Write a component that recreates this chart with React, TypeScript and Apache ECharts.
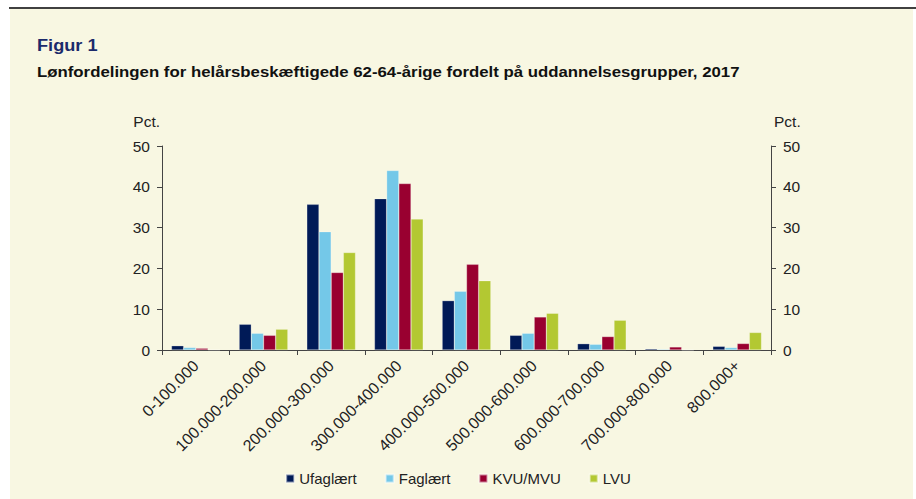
import React, { useEffect, useRef } from "react";
import * as echarts from "echarts";

const categories = [
  "0-100.000",
  "100.000-200.000",
  "200.000-300.000",
  "300.000-400.000",
  "400.000-500.000",
  "500.000-600.000",
  "600.000-700.000",
  "700.000-800.000",
  "800.000+",
];
const ufaglaert = [1.05, 6.3, 35.7, 37.1, 12.1, 3.6, 1.55, 0.3, 0.9];
const faglaert = [0.6, 4.1, 29.0, 44.0, 14.4, 4.1, 1.4, 0.2, 0.6];
const kvuMvu = [0.4, 3.6, 19.0, 40.8, 21.0, 8.1, 3.3, 0.75, 1.6];
const lvu = [0.05, 5.1, 23.9, 32.1, 17.0, 9.0, 7.3, 0.0, 4.3];
const seriesNames = ["Ufaglært", "Faglært", "KVU/MVU", "LVU"];
const seriesColors = ["#001A57", "#74C8E8", "#990030", "#B3C832"];

const FONT = "'Liberation Sans', Arial, sans-serif";

export default function App() {
  const ref = useRef<HTMLDivElement>(null);
  useEffect(() => {
    if (!ref.current) return;
    const chart = echarts.init(ref.current, undefined, { renderer: "svg" });
    const data = [ufaglaert, faglaert, kvuMvu, lvu];
    const yAxisBase = {
      type: "value",
      min: 0,
      max: 50,
      interval: 10,
      splitLine: { show: false },
      axisLine: { show: true, lineStyle: { color: "#444", width: 1 } },
      axisTick: { show: true, length: 5, lineStyle: { color: "#444" } },
      axisLabel: { color: "#222", fontSize: 15.5, fontFamily: FONT, margin: 12 },
      nameLocation: "end",
      nameGap: 17,
    };
    chart.setOption({
      animation: false,
      backgroundColor: "#ffffff",
      textStyle: { fontFamily: FONT },
      graphic: [
        {
          type: "rect",
          shape: { x: 10, y: 9, width: 903, height: 490 },
          style: { fill: "#F8F7E2" },
          z: -10,
          silent: true,
        },
        {
          type: "line",
          shape: { x1: 9, y1: 8, x2: 916, y2: 8 },
          style: { stroke: "#000", lineWidth: 1.3 },
        },
        {
          type: "text",
          x: 37,
          y: 37,
          scaleX: 1.07,
          style: {
            text: "Figur 1",
            fill: "#1B2A6B",
            font: `bold 17px ${FONT}`,
          },
        },
        {
          type: "text",
          x: 37,
          y: 65,
          scaleX: 1.2,
          style: {
            text: "Lønfordelingen for helårsbeskæftigede 62-64-årige fordelt på uddannelsesgrupper, 2017",
            fill: "#111",
            font: `bold 14px ${FONT}`,
          },
        },
      ],
      grid: { left: 162, right: 145, top: 146, bottom: 149, containLabel: false },
      legend: {
        data: seriesNames,
        bottom: 8,
        left: "center",
        itemWidth: 8,
        itemHeight: 8,
        itemGap: 28,
        icon: "rect",
        textStyle: { fontSize: 15, color: "#222", fontFamily: FONT },
      },
      xAxis: {
        type: "category",
        data: categories,
        axisLine: { show: true, lineStyle: { color: "#444", width: 1 } },
        axisTick: { show: true, length: 5, alignWithLabel: false, lineStyle: { color: "#444" } },
        axisLabel: {
          rotate: 45,
          interval: 0,
          color: "#222",
          fontSize: 16,
          fontFamily: FONT,
          margin: 13,
        },
      },
      yAxis: [
        {
          ...yAxisBase,
          position: "left",
          name: "Pct.",
          nameTextStyle: { color: "#222", fontSize: 15.5, fontFamily: FONT, align: "right", padding: [0, 2, 0, 0] },
        },
        {
          ...yAxisBase,
          position: "right",
          name: "Pct.",
          nameTextStyle: { color: "#222", fontSize: 15.5, fontFamily: FONT, align: "left", padding: [0, 0, 0, 3] },
        },
      ],
      series: seriesNames.map((name, i) => ({
        name,
        type: "bar",
        data: data[i],
        yAxisIndex: 0,
        barGap: "0%",
        barCategoryGap: "28%",
        itemStyle: { color: seriesColors[i], borderColor: "rgba(255,255,255,0.5)", borderWidth: 0.5 },
      })),
    });
    return () => chart.dispose();
  }, []);
  return (
    <div
      ref={ref}
      style={{ position: "fixed", left: 0, top: 0, width: 916, height: 499 }}
    />
  );
}
